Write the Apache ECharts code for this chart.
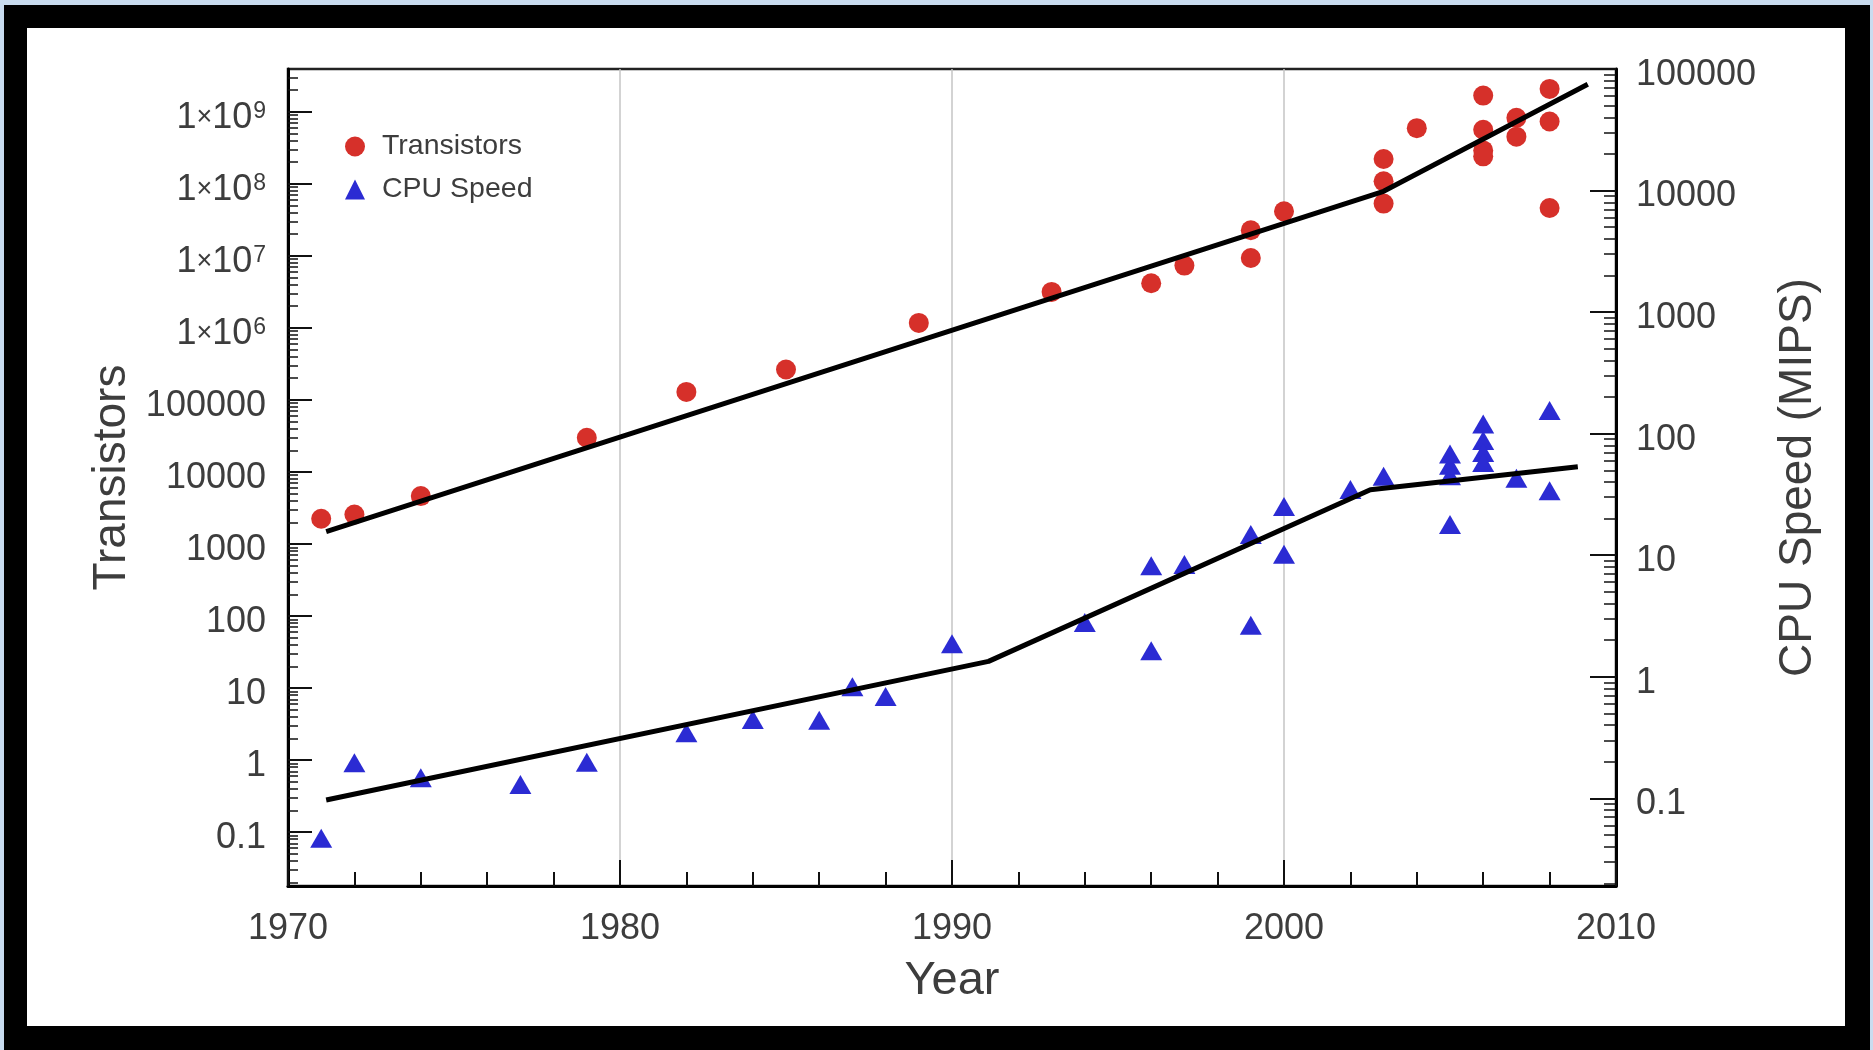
<!DOCTYPE html>
<html>
<head>
<meta charset="utf-8">
<script src="https://cdn.jsdelivr.net/npm/echarts@6/dist/echarts.min.js"></script>
<style>
  html, body { margin: 0; padding: 0; width: 1873px; height: 1050px; overflow: hidden; background: #c9dcef; }
  #frame { position: absolute; left: 4px; top: 5px; width: 1866px; height: 1045px; background: #000; }
  #chart { position: absolute; left: 27px; top: 28px; width: 1818px; height: 998px; background: #fff; }
</style>
</head>
<body>
<div id="frame"></div>
<div id="chart"></div>
<script>
// ---- data ----
const transYears = [1971, 1972, 1974, 1979, 1982, 1985, 1989, 1993, 1996, 1997, 1999, 1999, 2000,
  2003, 2003, 2003, 2004, 2006, 2006, 2006, 2006, 2007, 2007, 2008, 2008, 2008];
const transCounts = [2240, 2570, 4620, 29800, 129000, 264000, 1170000, 3150000, 4150000, 7300000,
  9300000, 22600000, 41400000, 53000000, 108000000, 220000000, 590000000, 1670000000, 560000000,
  290000000, 240000000, 820000000, 450000000, 2070000000, 730000000, 46000000];

const cpuYears = [1971, 1972, 1974, 1977, 1979, 1982, 1984, 1986, 1987, 1988, 1990, 1994, 1996, 1996,
  1997, 1999, 1999, 2000, 2000, 2002, 2003, 2005, 2005, 2005, 2005, 2006, 2006, 2006, 2006, 2007, 2008, 2008];
const cpuMips = [0.047, 0.196, 0.148, 0.13, 0.198, 0.346, 0.445, 0.44, 0.83, 0.69, 1.87, 2.8, 8.2, 1.64,
  8.4, 14.8, 2.65, 25.2, 10.2, 34.8, 44.6, 17.9, 45, 55, 68, 120, 88, 70, 58, 43, 155, 34];

const transTrendYears = [1971.15, 2003.0, 2009.15];
const transTrendVals = [1480, 78500000, 2400000000];
const cpuTrendYears = [1971.15, 1991.1, 2002.6, 2008.85];
const cpuTrendVals = [0.097, 1.34, 34.6, 53.5];

const xTickYears = [1970, 1980, 1990, 2000, 2010];
const leftTicks = [0.1, 1, 10, 100, 1000, 10000, 100000, 1e6, 1e7, 1e8, 1e9];
const rightTicks = [0.1, 1, 10, 100, 1000, 10000, 100000];
const seriesNames = ['Transistors', 'CPU Speed'];
const axisNames = ['Year', 'Transistors', 'CPU Speed (MIPS)'];

// ---- helpers ----
const zip = (a, b) => a.map((v, i) => [v, b[i]]);
const FONT = 'Liberation Sans, Arial, Helvetica, sans-serif';
const TXT = '#3d3d3d';
const LEFT_MIN = Math.pow(10, -1.746), LEFT_MAX = Math.pow(10, 9.592);
const RIGHT_MIN = Math.pow(10, -1.721), RIGHT_MAX = 100000;

// log-spaced minor tick positions (2..9 times each decade) inside [lo, hi]
function minorTicks(majors, lo, hi) {
  const out = [];
  const decades = [majors[0] / 10].concat(majors);
  decades.forEach(d => {
    for (let k = 2; k <= 9; k++) {
      const v = d * k;
      if (v > lo && v < hi) out.push(v);
    }
  });
  return out;
}

function decLabel(v, sci) {
  const e = Math.round(Math.log10(v));
  if (sci && e >= 6) return '1{x|×}10{s|' + e + '}';
  if (e >= 0) return String(Math.pow(10, e));
  return Math.pow(10, e).toFixed(-e);
}

const chart = echarts.init(document.getElementById('chart'), null, { renderer: 'canvas' });

const tickLine = { color: '#111', width: 2 };
const minorLine = { color: '#111', width: 1.5 };

const option = {
  backgroundColor: '#ffffff',
  animation: false,
  textStyle: { fontFamily: FONT },
  grid: {
    left: 261, top: 41, right: 229, bottom: 140,
    show: true, borderColor: '#222', borderWidth: 2.5, backgroundColor: 'transparent'
  },
  legend: {
    orient: 'vertical',
    left: 313, top: 99,
    itemWidth: 20, itemHeight: 20, itemGap: 14,
    textStyle: { fontSize: 28.5, color: TXT, fontFamily: FONT, padding: [0, 0, 0, 12] },
    data: [
      { name: seriesNames[0], icon: 'circle', itemStyle: { color: '#d6302a', opacity: 1 } },
      { name: seriesNames[1], icon: 'triangle', itemStyle: { color: '#2b2bd3', opacity: 1 } }
    ]
  },
  xAxis: {
    type: 'value',
    min: xTickYears[0], max: xTickYears[xTickYears.length - 1], interval: 10,
    name: axisNames[0], nameLocation: 'middle', nameGap: 72,
    nameTextStyle: { fontSize: 47, color: TXT, fontFamily: FONT },
    axisLine: { show: true, lineStyle: { color: '#000', width: 3 } },
    axisTick: { show: true, inside: true, length: 26, lineStyle: tickLine },
    minorTick: { show: true, splitNumber: 5, length: 14, lineStyle: tickLine },
    axisLabel: { fontSize: 36, color: TXT, margin: 25, fontFamily: FONT, formatter: v => String(v) },
    splitLine: { show: true, lineStyle: { color: '#c4c4c4', width: 1.5 } },
    minorSplitLine: { show: false }
  },
  yAxis: [
    {
      type: 'log', logBase: 10, min: LEFT_MIN, max: LEFT_MAX,
      position: 'left',
      name: axisNames[1], nameLocation: 'middle', nameRotate: 90, nameGap: 153,
      nameTextStyle: { fontSize: 46, color: TXT, fontFamily: FONT },
      axisLine: { show: true, lineStyle: { color: '#000', width: 3 } },
      axisTick: { show: true, inside: true, length: 24, lineStyle: tickLine, customValues: leftTicks },
      minorTick: { show: false },
      splitLine: { show: false },
      axisLabel: {
        fontSize: 36, color: TXT, margin: 22, fontFamily: FONT,
        padding: [12, 0, 0, 0],
        customValues: leftTicks,
        formatter: v => decLabel(v, true),
        rich: {
          x: { fontSize: 27, color: TXT, fontFamily: FONT },
          s: { fontSize: 23, color: TXT, fontFamily: FONT, verticalAlign: 'top', lineHeight: 23, padding: [0, 0, 18, 1] }
        }
      }
    },
    {
      type: 'log', logBase: 10, min: RIGHT_MIN, max: RIGHT_MAX,
      position: 'right',
      name: axisNames[2], nameLocation: 'middle', nameRotate: 90, nameGap: 159,
      nameTextStyle: { fontSize: 46, color: TXT, fontFamily: FONT },
      axisLine: { show: true, lineStyle: { color: '#000', width: 3 } },
      axisTick: { show: true, inside: true, length: 26, lineStyle: tickLine, customValues: rightTicks },
      minorTick: { show: false },
      splitLine: { show: false },
      axisLabel: {
        fontSize: 36, color: TXT, margin: 20, fontFamily: FONT,
        customValues: rightTicks,
        formatter: v => '{n|' + decLabel(v, false) + '}',
        rich: {
          n: { fontSize: 36, color: TXT, fontFamily: FONT, padding: [12, 0, 0, 0] }
        }
      }
    },
    {
      // minor ticks of the left axis
      type: 'log', logBase: 10, min: LEFT_MIN, max: LEFT_MAX,
      position: 'left', silent: true,
      axisLine: { show: false },
      axisLabel: { show: false },
      splitLine: { show: false },
      axisTick: { show: true, inside: true, length: 10, lineStyle: minorLine,
        customValues: minorTicks(leftTicks, LEFT_MIN, LEFT_MAX) }
    },
    {
      // minor ticks of the right axis
      type: 'log', logBase: 10, min: RIGHT_MIN, max: RIGHT_MAX,
      position: 'right', silent: true,
      axisLine: { show: false },
      axisLabel: { show: false },
      splitLine: { show: false },
      axisTick: { show: true, inside: true, length: 12, lineStyle: minorLine,
        customValues: minorTicks(rightTicks, RIGHT_MIN, RIGHT_MAX) }
    }
  ],
  series: [
    {
      name: seriesNames[0], type: 'scatter', yAxisIndex: 0,
      symbol: 'circle', symbolSize: 20,
      itemStyle: { color: '#d6302a', opacity: 1 },
      data: zip(transYears, transCounts), z: 2
    },
    {
      name: seriesNames[1], type: 'scatter', yAxisIndex: 1,
      symbol: 'triangle', symbolSize: [22, 19],
      itemStyle: { color: '#2b2bd3', opacity: 1 },
      data: zip(cpuYears, cpuMips), z: 2
    },
    {
      name: 'Transistor trend', type: 'line', yAxisIndex: 0,
      showSymbol: false, symbol: 'none',
      lineStyle: { color: '#000', width: 5 },
      data: zip(transTrendYears, transTrendVals), z: 3
    },
    {
      name: 'CPU trend', type: 'line', yAxisIndex: 1,
      showSymbol: false, symbol: 'none',
      lineStyle: { color: '#000', width: 5 },
      data: zip(cpuTrendYears, cpuTrendVals), z: 3
    }
  ]
};
chart.setOption(option);
</script>
</body>
</html>
